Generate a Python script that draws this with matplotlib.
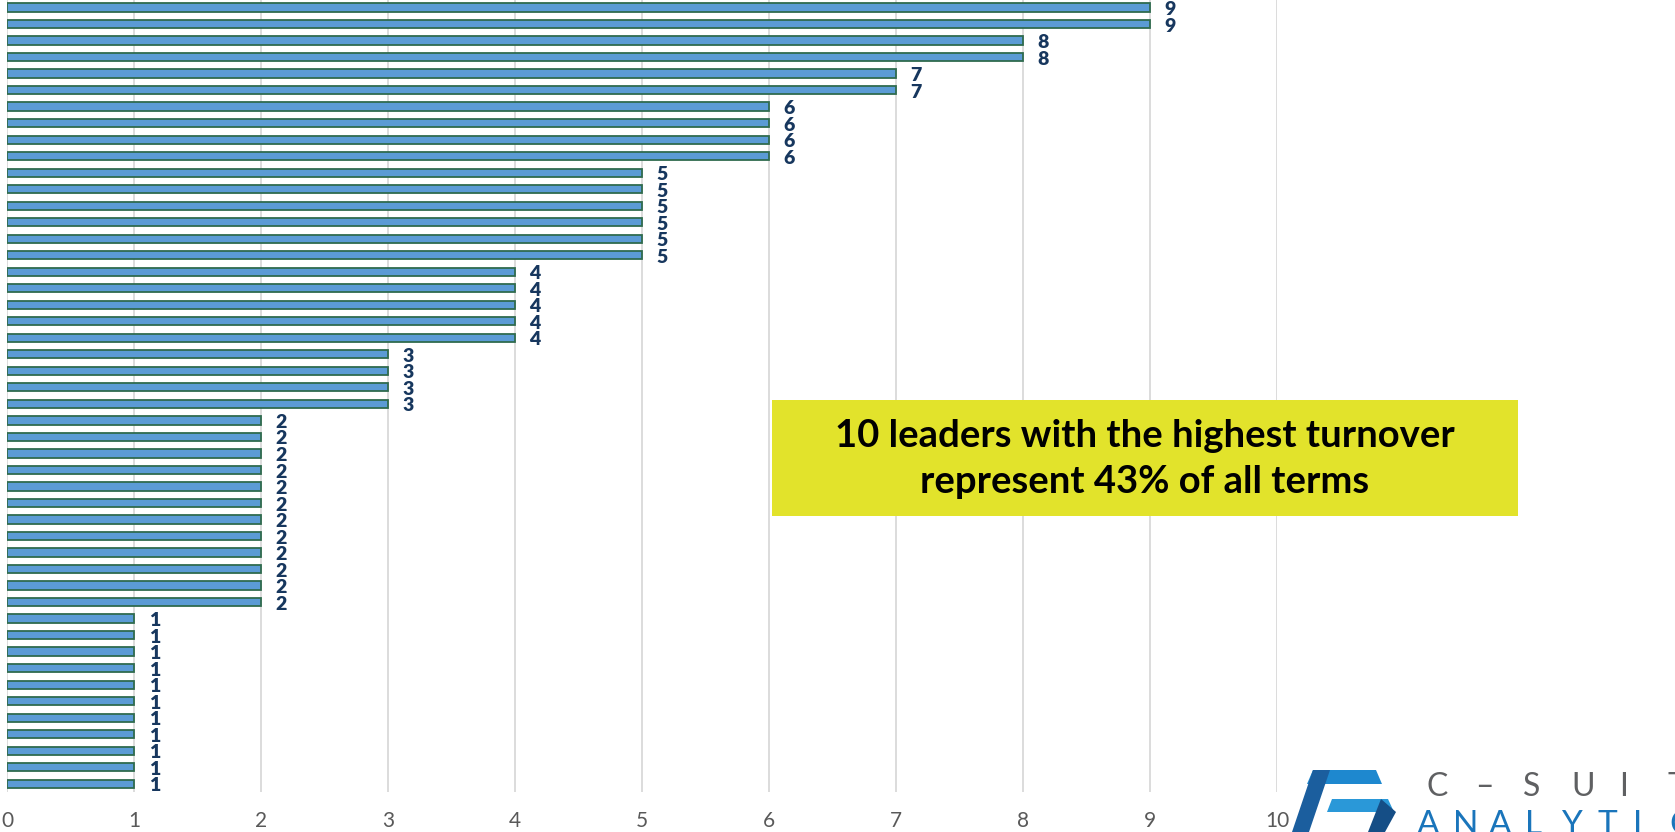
import matplotlib
matplotlib.use("Agg")
import matplotlib.pyplot as plt
from matplotlib.patches import Polygon

# ---- data (top to bottom) ----
values = [9, 9, 8, 8, 7, 7, 6, 6, 6, 6,
          5, 5, 5, 5, 5, 5,
          4, 4, 4, 4, 4,
          3, 3, 3, 3,
          2, 2, 2, 2, 2, 2, 2, 2, 2, 2, 2, 2,
          1, 1, 1, 1, 1, 1, 1, 1, 1, 1, 1]
x_ticks = [0, 1, 2, 3, 4, 5, 6, 7, 8, 9, 10]
note_lines = ["10 leaders with the highest turnover", "represent 43% of all terms"]
logo_top = "C\u2013SUITE"
logo_bottom = "ANALYTICS"

W, H = 1675, 832
fig = plt.figure(figsize=(W / 100, H / 100), dpi=100)
ax = fig.add_axes([7 / W, 40 / H, (1277 - 7) / W, (792 + 0.75) / H])

ypos = list(range(len(values)))
ax.barh(ypos, values, height=0.5, color="#5B9BD5", edgecolor="#2F6B4E",
        linewidth=1.3, zorder=3)

for y, v in zip(ypos, values):
    ax.annotate(str(v), xy=(v, y), xytext=(10.5, -1.5), textcoords="offset points",
                ha="left", va="center", fontsize=14, fontweight="heavy",
                color="#17375E", family=["Lato", "DejaVu Sans"], zorder=4,
                annotation_clip=False)

ax.set_xlim(0, 10)
ax.set_ylim(len(values) - 0.5, -0.5)
ax.set_xticks(x_ticks)
ax.set_xticklabels([str(t) for t in x_ticks], family=["Lato", "DejaVu Sans"],
                   fontsize=15, color="#595959")
ax.set_yticks([])
ax.tick_params(axis="x", length=0, pad=14)
ax.grid(axis="x", color="#D9D9D9", linewidth=1.3, zorder=0)
for s in ax.spines.values():
    s.set_visible(False)

# ---- annotation box ----
bx0, bx1, by0, by1 = 772, 1518, 400, 516
fig.patches.append(plt.Rectangle((bx0 / W, 1 - by1 / H), (bx1 - bx0) / W, (by1 - by0) / H,
                                 transform=fig.transFigure, facecolor="#E2E32B",
                                 edgecolor="none", zorder=5))
fig.text((bx0 + bx1) / 2 / W, 1 - 436 / H, note_lines[0], ha="center", va="center",
         fontsize=27.5, fontweight="bold", color="black", family=["Lato", "DejaVu Sans"], zorder=6)
fig.text((bx0 + bx1) / 2 / W, 1 - 482 / H, note_lines[1], ha="center", va="center",
         fontsize=27.5, fontweight="bold", color="black", family=["Lato", "DejaVu Sans"], zorder=6)

# ---- logo (decoration, bottom right) ----
def poly(pts, color):
    p = Polygon([(x, H - y) for x, y in pts], closed=True, transform=None,
                facecolor=color, edgecolor="none", zorder=7)
    fig.patches.append(p)

poly([(1313, 770), (1376, 770), (1382, 784), (1307, 784)], "#1E88CF")
poly([(1313, 770), (1330, 770), (1309, 832), (1292, 832)], "#1B5E9E")
poly([(1332, 799), (1388, 799), (1394, 812), (1327, 812)], "#2A98D8")
poly([(1381, 799), (1396, 812), (1385, 832), (1368, 832)], "#154E86")

for i, ch in enumerate(logo_top):
    fig.text((1427 + 48 * i) / W, 1 - 796 / H, ch, ha="left", va="baseline",
             fontsize=23, fontweight="normal", color="#5F6062",
             family=["Lato", "DejaVu Sans"])
for i, ch in enumerate(logo_bottom):
    fig.text((1417 + 36 * i) / W, 1 - 834 / H, ch, ha="left", va="baseline",
             fontsize=24, color="#1A75BB", family=["Lato", "DejaVu Sans"])

fig.savefig("out.png", dpi=100)
